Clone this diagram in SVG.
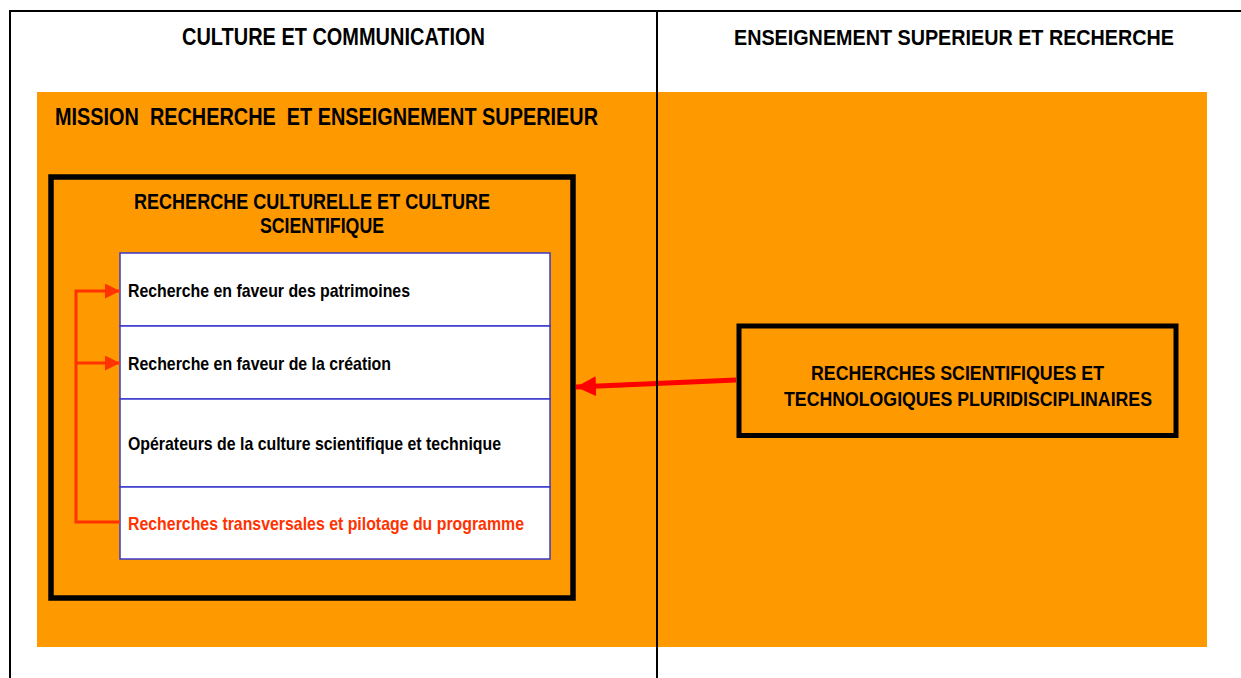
<svg xmlns="http://www.w3.org/2000/svg" width="1241" height="678" viewBox="0 0 1241 678">
<style>
.t{font-family:"Liberation Sans",Arial,sans-serif;font-weight:bold;fill:#000}
.i{font-family:"Liberation Sans",Arial,sans-serif;font-weight:bold;fill:#000;font-size:18.5px}
.row{fill:#fff;stroke:#3838CC;stroke-width:1.5}
</style>
<defs>
<marker id="ao" markerWidth="5" markerHeight="5" refX="5" refY="2.5" orient="auto" markerUnits="strokeWidth"><path d="M0,0 L5,2.5 L0,5 Z" fill="#FF3300"/></marker>
<marker id="ar" markerWidth="4" markerHeight="4" refX="4" refY="2" orient="auto" markerUnits="strokeWidth"><path d="M0,0 L4,2 L0,4 Z" fill="#FF0000"/></marker>
</defs>
<rect width="1241" height="678" fill="#fff"/>
<g id="header-left"><text class="t" x="182" y="45" font-size="23" textLength="303" lengthAdjust="spacingAndGlyphs">CULTURE ET COMMUNICATION</text></g>
<g id="header-right"><text class="t" x="734" y="45" font-size="22" textLength="440" lengthAdjust="spacingAndGlyphs">ENSEIGNEMENT SUPERIEUR ET RECHERCHE</text></g>
<g id="mission">
<rect x="37" y="92" width="1170" height="555" fill="#FF9900"/>
<text class="t" x="55" y="125" font-size="23" textLength="543" lengthAdjust="spacingAndGlyphs" xml:space="preserve">MISSION  RECHERCHE  ET ENSEIGNEMENT SUPERIEUR</text>
</g>
<g id="programme">
<rect x="51" y="177" width="522" height="421" fill="none" stroke="#000" stroke-width="5.5"/>
<text class="t" x="134" y="209" font-size="22" textLength="356" lengthAdjust="spacingAndGlyphs">RECHERCHE CULTURELLE ET CULTURE</text>
<text class="t" x="260" y="233" font-size="22" textLength="124" lengthAdjust="spacingAndGlyphs">SCIENTIFIQUE</text>
</g>
<g id="action1"><rect class="row" x="120" y="253" width="430" height="73"/><text class="i" x="128" y="297" textLength="282" lengthAdjust="spacingAndGlyphs">Recherche en faveur des patrimoines</text></g>
<g id="action2"><rect class="row" x="120" y="326" width="430" height="73"/><text class="i" x="128" y="370" textLength="263" lengthAdjust="spacingAndGlyphs">Recherche en faveur de la création</text></g>
<g id="action3"><rect class="row" x="120" y="399" width="430" height="88"/><text class="i" x="128" y="450" textLength="373" lengthAdjust="spacingAndGlyphs">Opérateurs de la culture scientifique et technique</text></g>
<g id="action4"><rect class="row" x="120" y="487" width="430" height="72"/><text class="i" x="128" y="530" textLength="396" lengthAdjust="spacingAndGlyphs" style="fill:#FF3300">Recherches transversales et pilotage du programme</text></g>
<g id="pluridisciplinaire">
<rect x="739" y="326" width="437" height="109.5" fill="none" stroke="#000" stroke-width="5"/>
<text class="t" x="811" y="380" font-size="21" textLength="293" lengthAdjust="spacingAndGlyphs">RECHERCHES SCIENTIFIQUES ET</text>
<text class="t" x="784" y="406" font-size="21" textLength="368" lengthAdjust="spacingAndGlyphs">TECHNOLOGIQUES PLURIDISCIPLINAIRES</text>
</g>
<g id="connectors" fill="none">
<path d="M120,522 H76 V291 H120" stroke="#FF3300" stroke-width="3" marker-end="url(#ao)"/>
<path d="M76,363 H120" stroke="#FF3300" stroke-width="3" marker-end="url(#ao)"/>
<path d="M736,380 L576,387" stroke="#FF0000" stroke-width="5" marker-end="url(#ar)"/>
</g>
<g id="frame" stroke="#000" stroke-width="2" fill="none">
<path d="M10,678 V11 H1241"/>
<path d="M657,11 V678"/>
</g>
</svg>
